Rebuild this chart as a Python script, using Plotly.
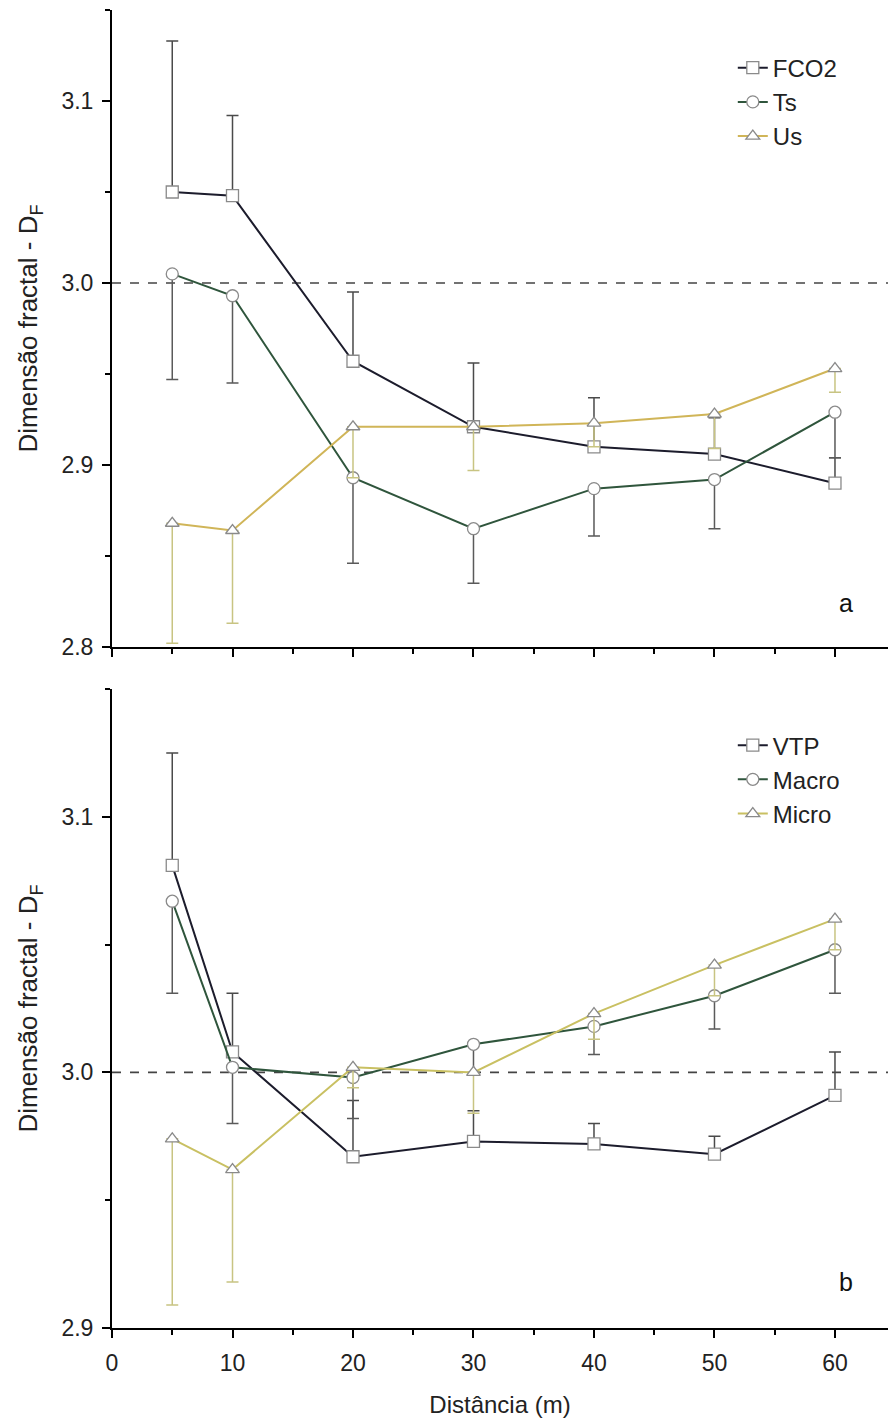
import plotly.graph_objects as go

# ---------------- data ----------------
distancia = [5, 10, 20, 30, 40, 50, 60]

# panel a
fco2 = [3.050, 3.048, 2.957, 2.921, 2.910, 2.906, 2.890]
fco2_err = [0.083, 0.044, 0.038, 0.035, 0.027, 0.020, 0.014]
ts = [3.005, 2.993, 2.893, 2.865, 2.887, 2.892, 2.929]
ts_err = [0.058, 0.048, 0.047, 0.030, 0.026, 0.027, 0.025]
us = [2.868, 2.864, 2.921, 2.921, 2.923, 2.928, 2.953]
us_err = [0.066, 0.051, 0.028, 0.024, 0.013, 0.019, 0.013]

# panel b
vtp = [3.081, 3.008, 2.967, 2.973, 2.972, 2.968, 2.991]
vtp_err = [0.044, 0.023, 0.022, 0.012, 0.008, 0.007, 0.017]
macro = [3.067, 3.002, 2.998, 3.011, 3.018, 3.030, 3.048]
macro_err = [0.036, 0.022, 0.016, 0.011, 0.011, 0.013, 0.017]
micro = [2.974, 2.962, 3.002, 3.000, 3.023, 3.042, 3.060]
micro_err = [0.065, 0.044, 0.008, 0.016, 0.010, 0.012, 0.012]

ref_value = 3.0
zeros = [0] * len(distancia)

FONT = "Arial, Liberation Sans, sans-serif"
C_BLACK = "#1c1c2c"
C_GREEN = "#2f553c"
C_YEL_A = "#d0b558"
C_YEL_B = "#c9c062"
MK_EDGE = "#8a8a8a"

fig = go.Figure()


def add_series(x, y, err, up, name, color, ecolor, symbol, xa, ya, legend):
    fig.add_trace(go.Scatter(
        x=x, y=y, name=name, mode="lines+markers",
        xaxis=xa, yaxis=ya, legend=legend,
        line=dict(color=color, width=2),
        marker=dict(symbol=symbol, size=12, color="white",
                    line=dict(color=MK_EDGE, width=1.3)),
        error_y=dict(type="data", symmetric=False,
                     array=err if up else zeros,
                     arrayminus=zeros if up else err,
                     color=ecolor, thickness=1.5, width=6),
    ))


add_series(distancia, fco2, fco2_err, True, "FCO2", C_BLACK, "#4a4a4a", "square", "x", "y", "legend")
add_series(distancia, ts, ts_err, False, "Ts", C_GREEN, "#5a5a5a", "circle", "x", "y", "legend")
add_series(distancia, us, us_err, False, "Us", C_YEL_A, "#c8c482", "triangle-up", "x", "y", "legend")

add_series(distancia, vtp, vtp_err, True, "VTP", C_BLACK, "#4a4a4a", "square", "x2", "y2", "legend2")
add_series(distancia, macro, macro_err, False, "Macro", C_GREEN, "#5a5a5a", "circle", "x2", "y2", "legend2")
add_series(distancia, micro, micro_err, False, "Micro", C_YEL_B, "#c8c482", "triangle-up", "x2", "y2", "legend2")

# reference dashed lines at D_F = 3.0
for xr, yr in (("x domain", "y"), ("x2 domain", "y2")):
    fig.add_shape(type="line", xref=xr, yref=yr, x0=0, x1=1, y0=ref_value, y1=ref_value,
                  line=dict(color="#444444", width=1.6, dash="dash"), layer="below")

X_RANGE = [0, 64.4]
tickfont = dict(family=FONT, size=23, color="#222")

xbase = dict(range=X_RANGE, showline=True, linecolor="black", linewidth=2,
             ticks="outside", ticklen=8, tickwidth=2, tickcolor="black",
             dtick=10, tick0=0, showgrid=False, zeroline=False,
             minor=dict(dtick=5, tick0=0, ticks="outside", ticklen=5, tickwidth=1.5, tickcolor="black"),
             tickfont=tickfont)
xtop = dict(range=X_RANGE, showline=True, linecolor="black", linewidth=2,
            ticks="inside", ticklen=8, tickwidth=2, tickcolor="black",
            dtick=10, tick0=0, showgrid=False, zeroline=False, showticklabels=False,
            minor=dict(dtick=5, tick0=0, ticks="inside", ticklen=5, tickwidth=1.5, tickcolor="black"),
            side="top")


def ybase(rng, t0):
    return dict(range=rng, showline=True, linecolor="black", linewidth=2,
                ticks="outside", ticklen=8, tickwidth=2, tickcolor="black",
                dtick=0.1, tick0=t0, tickformat=".1f", showgrid=False, zeroline=False,
                minor=dict(dtick=0.05, tick0=t0, ticks="outside", ticklen=5, tickwidth=1.5, tickcolor="black"),
                tickfont=tickfont, ticklabelstandoff=4,
                title=dict(text="Dimensão fractal - D<sub>F</sub>", font=dict(family=FONT, size=26, color="#222"),
                           standoff=16))


def yright(rng, t0):
    return dict(range=rng, showline=True, linecolor="#c8c8c8", linewidth=1.5,
                ticks="outside", ticklen=8, tickwidth=2, tickcolor="black",
                dtick=0.1, tick0=t0, showgrid=False, zeroline=False, showticklabels=False,
                minor=dict(dtick=0.05, tick0=t0, ticks="outside", ticklen=5, tickwidth=1.5, tickcolor="black"),
                side="right")


TOP_DOM = [0.5167, 1.0]
BOT_DOM = [0.0, 0.4848]

fig.update_layout(
    width=892, height=1423,
    margin=dict(l=112, r=4, t=10, b=95),
    paper_bgcolor="white", plot_bgcolor="white",
    font=dict(family=FONT, color="#222"),
    xaxis=dict(**xbase, anchor="y", domain=[0, 1], showticklabels=False),
    yaxis=dict(**ybase([2.8, 3.15], 2.8), anchor="x", domain=TOP_DOM),
    xaxis2=dict(**xbase, anchor="y2", domain=[0, 1], ticklabelstandoff=5,
                title=dict(text="Distância (m)", font=dict(family=FONT, size=24, color="#222"), standoff=22)),
    yaxis2=dict(**ybase([2.9, 3.15], 2.9), anchor="x2", domain=BOT_DOM),
    xaxis3=dict(**xtop, overlaying="x", anchor="y"),
    xaxis4=dict(**xtop, overlaying="x2", anchor="y2"),
    yaxis3=dict(**yright([2.8, 3.15], 2.8), overlaying="y", anchor="x"),
    yaxis4=dict(**yright([2.9, 3.15], 2.9), overlaying="y2", anchor="x2"),
    legend=dict(x=0.80, y=0.973, xanchor="left", yanchor="top", bgcolor="rgba(0,0,0,0)",
                font=dict(family=FONT, size=24, color="#222"), tracegroupgap=0),
    legend2=dict(x=0.80, y=0.459, xanchor="left", yanchor="top", bgcolor="rgba(0,0,0,0)",
                 font=dict(family=FONT, size=24, color="#222"), tracegroupgap=0),
    showlegend=True,
    annotations=[
        dict(text="a", xref="paper", yref="paper", x=0.957, y=0.550, showarrow=False,
             font=dict(family=FONT, size=25, color="#111")),
        dict(text="b", xref="paper", yref="paper", x=0.957, y=0.023, showarrow=False,
             font=dict(family=FONT, size=25, color="#111")),
    ],
)

fig.write_html("out.html")
